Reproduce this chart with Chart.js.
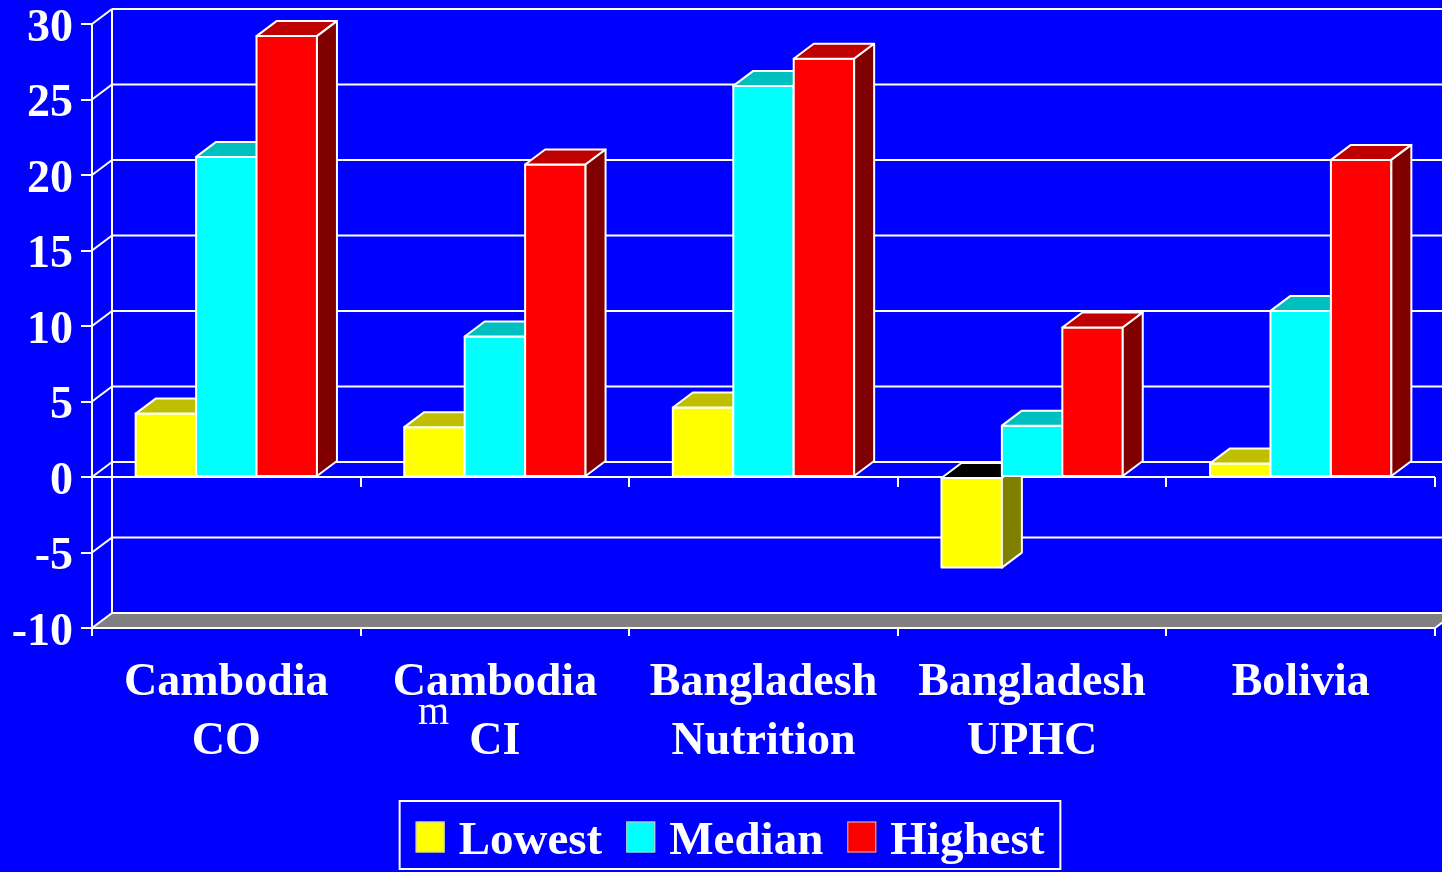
<!DOCTYPE html>
<html>
<head>
<meta charset="utf-8">
<title>Lowest / Median / Highest</title>
<script src="https://cdn.jsdelivr.net/npm/chart.js@4.4.1/dist/chart.umd.min.js"></script>
<style>
  html, body { margin: 0; padding: 0; background: #0000ff; overflow: hidden; }
  canvas { display: block; }
</style>
</head>
<body>
<canvas id="chart" width="1442" height="872"></canvas>
<script>
'use strict';

// ─── DATA ────────────────────────────────────────────────────────────────────
const CATEGORIES = [
  ['Cambodia', 'CO'],
  ['Cambodia', 'CI'],
  ['Bangladesh', 'Nutrition'],
  ['Bangladesh', 'UPHC'],
  ['Bolivia']
];
const SERIES_NAMES = ['Lowest', 'Median', 'Highest'];
const LOWEST  = [4.2, 3.3, 4.6, -6.0, 0.9];
const MEDIAN  = [21.2, 9.3, 25.9, 3.4, 11.0];
const HIGHEST = [29.2, 20.7, 27.7, 9.9, 21.0];
const Y_MIN = -10, Y_MAX = 30, Y_STEP = 5;

// ─── STYLE ───────────────────────────────────────────────────────────────────
const SERIF = "'Liberation Serif', 'Times New Roman', serif";
const BG = '#0000ff';
const WHITE = '#ffffff';
const FLOOR = '#808080';
const COLORS = ['#ffff00', '#00ffff', '#ff0000'];
const DX = 20, DY = -15;          // depth offset of the 3D box
const LEGEND = { cx: 730, top: 801, bottom: 869, box: 29, boxH: 31, gap: 14, itemGap: 24, font: 47 };

function shade(hex, f) {
  const n = parseInt(hex.slice(1), 16);
  const r = Math.round(((n >> 16) & 255) * f);
  const g = Math.round(((n >> 8) & 255) * f);
  const b = Math.round((n & 255) * f);
  return `rgb(${r},${g},${b})`;
}

function line(ctx, x1, y1, x2, y2) {
  ctx.beginPath(); ctx.moveTo(x1, y1); ctx.lineTo(x2, y2); ctx.stroke();
}

function poly(ctx, pts, fill) {
  ctx.beginPath();
  pts.forEach((p, i) => i ? ctx.lineTo(p[0], p[1]) : ctx.moveTo(p[0], p[1]));
  ctx.closePath();
  ctx.fillStyle = fill;
  ctx.fill();
  ctx.stroke();
}

// ─── 3D FRAME, BARS AND LEGEND ───────────────────────────────────────────────
const frame3d = {
  id: 'frame3d',
  beforeDraw(chart) {
    const { ctx, chartArea: a, scales: { y } } = chart;
    const yFloor = y.getPixelForValue(Y_MIN);
    const yTop = y.getPixelForValue(Y_MAX);
    ctx.save();
    ctx.fillStyle = BG;
    ctx.fillRect(0, 0, chart.width, chart.height);

    // floor slab
    ctx.fillStyle = FLOOR;
    ctx.beginPath();
    ctx.moveTo(a.left, yFloor); ctx.lineTo(a.right, yFloor);
    ctx.lineTo(a.right + DX, yFloor + DY); ctx.lineTo(a.left + DX, yFloor + DY);
    ctx.closePath(); ctx.fill();

    ctx.strokeStyle = WHITE;
    ctx.lineWidth = 2;
    // back wall gridlines and side wall diagonals
    y.ticks.forEach(t => {
      const py = y.getPixelForValue(t.value);
      line(ctx, a.left + DX, py + DY, a.right + DX, py + DY);
      line(ctx, a.left, py, a.left + DX, py + DY);
    });
    line(ctx, a.left + DX, yTop + DY, a.left + DX, yFloor + DY);
    line(ctx, a.right, yFloor, a.right + DX, yFloor + DY);
    ctx.restore();
  },
  beforeDatasetsDraw(chart) {
    const { ctx, chartArea: a, scales: { x, y } } = chart;
    const y0 = y.getPixelForValue(0);
    const half = (x.getPixelForValue(1) - x.getPixelForValue(0)) / 2;
    ctx.save();
    ctx.strokeStyle = WHITE;
    ctx.lineWidth = 2;
    line(ctx, a.left, y0, a.right, y0);
    for (let i = 0; i <= CATEGORIES.length; i++) {
      const px = Math.round(x.getPixelForValue(i) - half);
      line(ctx, px, y0, px, y0 + 10);
    }
    ctx.restore();
  },
  afterDatasetsDraw(chart) {
    const { ctx } = chart;
    const sets = chart.data.datasets;
    ctx.save();
    ctx.strokeStyle = WHITE;
    ctx.lineWidth = 2;
    ctx.lineJoin = 'round';
    for (let j = 0; j < CATEGORIES.length; j++) {
      sets.forEach((ds, i) => {
        const bar = chart.getDatasetMeta(i).data[j];
        const { x, y, base, width } = bar.getProps(['x', 'y', 'base', 'width'], true);
        const l = x - width / 2, r = x + width / 2;
        const top = Math.min(y, base), bot = Math.max(y, base);
        const neg = y > base;
        const c = ds.backgroundColor;
        poly(ctx, [[l, top], [r, top], [r, bot], [l, bot]], c);
        poly(ctx, [[l, top], [r, top], [r + DX, top + DY], [l + DX, top + DY]], neg ? '#000000' : shade(c, 0.75));
        poly(ctx, [[r, top], [r + DX, top + DY], [r + DX, bot + DY], [r, bot]], shade(c, 0.5));
      });
    }
    ctx.restore();
  },
  afterDraw(chart) {
    const { ctx } = chart;
    const sets = chart.data.datasets;
    ctx.save();
    ctx.font = `bold ${LEGEND.font}px ${SERIF}`;
    const widths = sets.map(ds => ctx.measureText(ds.label).width);
    const total = widths.reduce((s, w) => s + LEGEND.box + LEGEND.gap + w, 0) + LEGEND.itemGap * (sets.length - 1);
    const pad = 16;
    const left = LEGEND.cx - total / 2;

    ctx.strokeStyle = WHITE;
    ctx.lineWidth = 2;
    ctx.strokeRect(left - pad, LEGEND.top, total + pad * 2, LEGEND.bottom - LEGEND.top);

    const midY = (LEGEND.top + LEGEND.bottom) / 2 + 2;
    let px = left;
    ctx.textBaseline = 'alphabetic';
    sets.forEach((ds, i) => {
      ctx.fillStyle = ds.backgroundColor;
      ctx.fillRect(px, midY - LEGEND.boxH / 2, LEGEND.box, LEGEND.boxH);
      ctx.strokeStyle = '#c8c8c8';
      ctx.lineWidth = 1;
      ctx.strokeRect(px + 0.5, midY - LEGEND.boxH / 2 + 0.5, LEGEND.box - 1, LEGEND.boxH - 1);
      px += LEGEND.box + LEGEND.gap;
      ctx.fillStyle = WHITE;
      ctx.fillText(ds.label, px, midY + 17);
      px += widths[i] + LEGEND.itemGap;
    });

    // stray letter left over under the second category label
    ctx.font = `40px ${SERIF}`;
    ctx.fillText('m', 418, 724);
    ctx.restore();
  }
};

new Chart(document.getElementById('chart'), {
  type: 'bar',
  data: {
    labels: CATEGORIES,
    datasets: [LOWEST, MEDIAN, HIGHEST].map((values, i) => ({
      label: SERIES_NAMES[i],
      data: values,
      backgroundColor: COLORS[i],
      borderWidth: 0,
      categoryPercentage: 0.675,
      barPercentage: 1.0
    }))
  },
  options: {
    responsive: false,
    animation: false,
    layout: { padding: { left: 0, top: 24, right: 7, bottom: 0 } },
    plugins: { legend: { display: false }, tooltip: { enabled: false } },
    scales: {
      x: {
        grid: { drawOnChartArea: false, color: WHITE, lineWidth: 2, tickLength: 8, offset: true },
        border: { color: WHITE, width: 2 },
        ticks: {
          color: WHITE, padding: 18, maxRotation: 0, autoSkip: false,
          font: { family: SERIF, size: 46, weight: 'bold', lineHeight: 1.283 }
        },
        afterFit: s => { s.height = 244; s.paddingLeft = 0; s.paddingRight = 0; }
      },
      y: {
        min: Y_MIN, max: Y_MAX,
        grid: { drawOnChartArea: false, color: WHITE, lineWidth: 2, tickLength: 11 },
        border: { color: WHITE, width: 2 },
        ticks: {
          stepSize: Y_STEP, color: WHITE, padding: 8, labelOffset: 5,
          font: { family: SERIF, size: 46, weight: 'bold' }
        },
        afterFit: s => { s.width = 92; s.paddingTop = 0; s.paddingBottom = 0; }
      }
    }
  },
  plugins: [frame3d]
});
</script>
</body>
</html>
